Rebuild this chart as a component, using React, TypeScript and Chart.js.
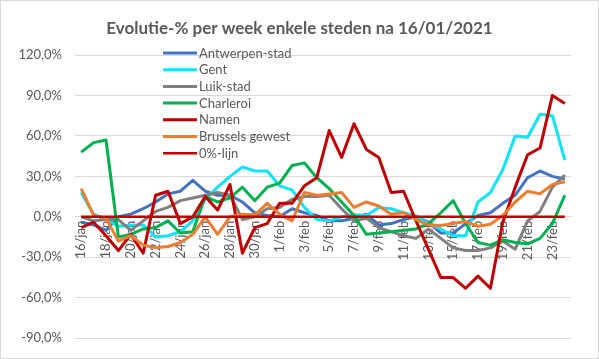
import React, { useEffect, useRef } from 'react';
import { Chart, registerables } from 'chart.js';

Chart.register(...registerables);

const FONT = 'Lato, "Open Sans", sans-serif';
const TEXT = '#595959';

const dates = [
  '16/jan', '17/jan', '18/jan', '19/jan', '20/jan', '21/jan', '22/jan', '23/jan', '24/jan', '25/jan',
  '26/jan', '27/jan', '28/jan', '29/jan', '30/jan', '31/jan', '1/feb', '2/feb', '3/feb', '4/feb',
  '5/feb', '6/feb', '7/feb', '8/feb', '9/feb', '10/feb', '11/feb', '12/feb', '13/feb', '14/feb',
  '15/feb', '16/feb', '17/feb', '18/feb', '19/feb', '20/feb', '21/feb', '22/feb', '23/feb', '24/feb',
];

const antwerpen = [
  -4, -6, -10, 0, 2, 6, 11, 17, 19, 27,
  19, 16, 16, 11, 3, 1, 0, 6, 3, 1,
  -3, -3, -1, 2, -6, -5, -2, 0, -4, -12,
  -12, -5, 1, 3, 10, 16, 29, 34, 30, 28,
];
const gent = [
  18, 2, -2, -7, -6, -6, -15, -14, -11, -3,
  13, 22, 30, 37, 34, 34, 23, 20, 7, -2,
  -3, 0, 1.5, 1, 7, 6, 3, 0.7, -5, -9,
  -14, -14, 11, 18, 35, 60, 59, 76, 75, 42,
];
const luik = [
  0, -3, -2, -2, -10, -3, 4, 7, 12, 14,
  16, 18, 16, -2, 0, 6, 7, 13, 15, 15,
  16, 6, -3, -1, -8, -11, -14, -16, -9, -16,
  -23, -25, -25, -23, -18, -24, -3, 4, 22, 31,
];
const charleroi = [
  48, 55, 57, -15, -13, -9, -8, -3, -12, -11,
  15, 11, 14, 22, 12, 22, 25, 38, 40, 29,
  21, 11, 1, -13, -12, -11, -10, -9, -5, 3,
  12, -5, -19, -21, -17, -19, -20, -16, -5, 16,
];
const namen = [
  -8, -4, -14, -25, -13, -27, 16, 19, -5, 0,
  15, 5, 24, -27, -8, -5, 10, 10, 23, 29,
  64, 44, 69, 50, 44, 18, 19, -3, -24, -45,
  -45, -53, -44, -53, -4, 22, 46, 51, 90, 84,
];
const brussel = [
  21, 1, -1, -18, -14, -21, -23, -22, -19, -13,
  0, -13, 0, 2, 1.5, 10, 2, -3, 18, 16,
  17, 18, 7, 11, 8, 2, 3, -2, -6, -6.5,
  -5, -3.5, -7, -5.5, 1, 11, 19, 17, 24, 26,
];
const nulLijn = [
  0, 0, 0, 0, 0, 0, 0, 0, 0, 0,
  0, 0, 0, 0, 0, 0, 0, 0, 0, 0,
  0, 0, 0, 0, 0, 0, 0, 0, 0, 0,
  0, 0, 0, 0, 0, 0, 0, 0, 0, 0,
];

const seriesNames = ['Antwerpen-stad', 'Gent', 'Luik-stad', 'Charleroi', 'Namen', 'Brussels gewest', '0%-lijn'];
const seriesValues = [antwerpen, gent, luik, charleroi, namen, brussel, nulLijn];
const seriesColors = ['#4472C4', '#0FE3F7', '#808080', '#00B050', '#C00000', '#ED7D31', '#C00000'];
const seriesWidths = [3, 3, 3, 3, 3, 3, 2.5];

const yTicks = [-90, -60, -30, 0, 30, 60, 90, 120];
const yTickLabels = ['-90,0%', '-60,0%', '-30,0%', '0,0%', '30,0%', '60,0%', '90,0%', '120,0%'];

const titleText = 'Evolutie-% per week enkele steden na 16/01/2021';

const framePlugin = {
  id: 'frame',
  beforeDraw(chart: any) {
    const { ctx, width, height } = chart;
    ctx.save();
    ctx.fillStyle = '#ffffff';
    ctx.fillRect(0, 0, width, height);
    ctx.strokeStyle = '#d9d9d9';
    ctx.lineWidth = 1;
    ctx.strokeRect(0.5, 0.5, width - 1, height - 1);
    ctx.restore();
  },
};

const titlePlugin = {
  id: 'centerTitle',
  afterDraw(chart: any) {
    const { ctx, width } = chart;
    ctx.save();
    ctx.font = `bold 17px ${FONT}`;
    ctx.fillStyle = TEXT;
    ctx.textAlign = 'center';
    ctx.textBaseline = 'alphabetic';
    ctx.fillText(titleText, width / 2, 34);
    ctx.restore();
  },
};

const legendPlugin = {
  id: 'insideLegend',
  afterDraw(chart: any) {
    const { ctx, chartArea } = chart;
    const x0 = chartArea.left + 88;
    const y0 = chartArea.top - 2;
    const step = 16.7;
    ctx.save();
    ctx.font = `13px ${FONT}`;
    ctx.textBaseline = 'middle';
    ctx.textAlign = 'left';
    chart.data.datasets.forEach((ds: any, i: number) => {
      const y = y0 + i * step;
      ctx.strokeStyle = ds.borderColor;
      ctx.lineWidth = ds.borderWidth;
      ctx.beginPath();
      ctx.moveTo(x0, y);
      ctx.lineTo(x0 + 34, y);
      ctx.stroke();
      ctx.fillStyle = TEXT;
      ctx.fillText(ds.label, x0 + 36, y + 0.5);
    });
    ctx.restore();
  },
};

export default function App() {
  const ref = useRef<HTMLCanvasElement | null>(null);

  useEffect(() => {
    if (!ref.current) return;
    const n = seriesNames.length;
    const chart = new Chart(ref.current, {
      type: 'line',
      data: {
        labels: dates,
        datasets: seriesNames.map((name, i) => ({
          label: name,
          data: seriesValues[i],
          borderColor: seriesColors[i],
          backgroundColor: seriesColors[i],
          borderWidth: seriesWidths[i],
          pointRadius: 0,
          tension: 0,
          fill: false,
          order: n - i,
          borderJoinStyle: 'round' as const,
        })),
      },
      options: {
        animation: false,
        responsive: false,
        layout: { padding: { left: 0, right: 28, top: 55, bottom: 19 } },
        plugins: {
          legend: { display: false },
          tooltip: { enabled: false },
          title: { display: false },
        },
        scales: {
          x: {
            type: 'category',
            position: { y: 0 } as any,
            offset: true,
            grid: { display: false, drawTicks: false, offset: true },
            border: { display: true, color: '#d9d9d9', width: 1 },
            ticks: {
              autoSkip: false,
              maxRotation: 90,
              minRotation: 90,
              padding: 4,
              color: TEXT,
              font: { family: FONT, size: 13 },
              callback: (_v: any, i: number) => (i % 2 === 0 ? dates[i] : ''),
            },
          },
          y: {
            min: -90,
            max: 120,
            afterFit: (scale: any) => {
              scale.width = 75;
            },
            afterBuildTicks: (scale: any) => {
              scale.ticks = yTicks.map((v) => ({ value: v }));
            },
            grid: { color: '#d9d9d9', lineWidth: 1, drawTicks: false },
            border: { display: false },
            ticks: {
              padding: 13,
              color: TEXT,
              font: { family: FONT, size: 13 },
              callback: (v: any) => {
                const idx = yTicks.indexOf(Number(v));
                return idx >= 0 ? yTickLabels[idx] : '';
              },
            },
          },
        },
      },
      plugins: [framePlugin, legendPlugin, titlePlugin],
    });
    return () => chart.destroy();
  }, []);

  return (
    <div style={{ position: 'fixed', left: 0, top: 0, width: 599, height: 359 }}>
      <canvas ref={ref} width={599} height={359} style={{ display: 'block', width: 599, height: 359 }} />
    </div>
  );
}
